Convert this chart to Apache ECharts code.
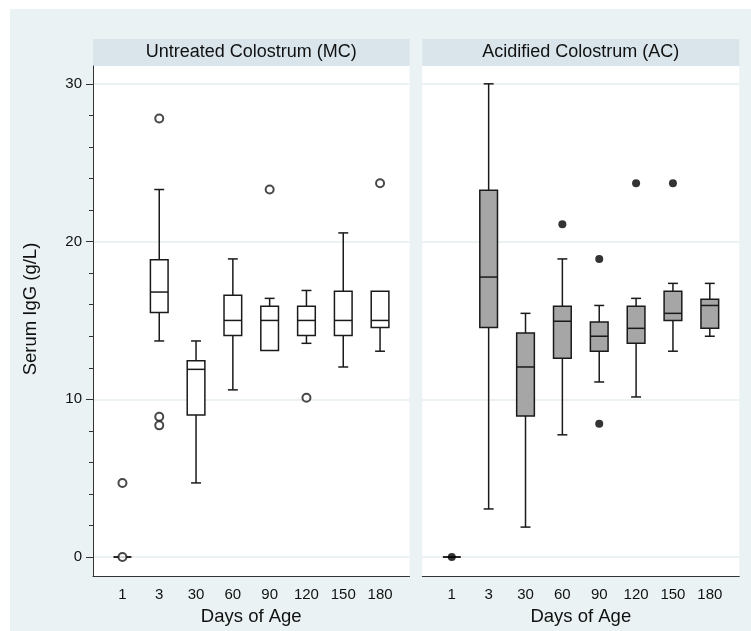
<!DOCTYPE html>
<html>
<head>
<meta charset="utf-8">
<script src="https://cdn.jsdelivr.net/npm/echarts@6/dist/echarts.min.js"></script>
<style>
  html, body { margin: 0; padding: 0; background: #fff; overflow: hidden; }
  #bg { position: absolute; left: 10px; top: 9px; width: 741px; height: 622px; background: #eaf2f3; }
  #main { position: absolute; left: 0; top: 0; width: 751px; height: 631px; }
</style>
</head>
<body>
<div id="bg"></div>
<div id="main"></div>
<script>
// days of age (categories)
const days = ['1', '3', '30', '60', '90', '120', '150', '180']
const panelTitles = ['Untreated Colostrum (MC)', 'Acidified Colostrum (AC)']
const yTicks = [0, 10, 20, 30]
const yMinorTicks = [0, 2, 4, 6, 8, 10, 12, 14, 16, 18, 20, 22, 24, 26, 28, 30]

// boxes: [lower whisker, Q1, median, Q3, upper whisker]
const mcBoxes = [
  [0, 0, 0, 0, 0],
  [13.7, 15.5, 16.8, 18.85, 23.3],
  [4.7, 9.0, 11.9, 12.45, 13.7],
  [10.6, 14.05, 15.0, 16.6, 18.9],
  [13.1, 13.1, 15.0, 15.9, 16.4],
  [13.55, 14.05, 15.0, 15.9, 16.9],
  [12.05, 14.05, 15.0, 16.85, 20.55],
  [13.05, 14.55, 15.0, 16.85, 16.85]
]
// outliers: [category index, value]
const mcOutliers = [[0, 0], [0, 4.7], [1, 27.8], [1, 8.9], [1, 8.35], [4, 23.3], [5, 10.1], [7, 23.7]]

const acBoxes = [
  [0, 0, 0, 0, 0],
  [3.05, 14.55, 17.75, 23.25, 30.0],
  [1.9, 8.95, 12.05, 14.2, 15.45],
  [7.75, 12.6, 14.95, 15.9, 18.9],
  [11.1, 13.05, 14.0, 14.9, 15.95],
  [10.15, 13.55, 14.5, 15.9, 16.4],
  [13.05, 15.0, 15.45, 16.85, 17.35],
  [14.0, 14.5, 15.95, 16.35, 17.35]
]
const acOutliers = [[0, 0], [3, 21.1], [4, 18.9], [4, 8.45], [5, 23.7], [6, 23.7]]

const font = "'Liberation Sans', Arial, sans-serif"
const lineColor = '#1a1a1a'

// 箱线图用 custom series 画，x 轴是数值轴
function boxRenderer(fill) {
  return function (params, api) {
    const x = api.value(0)
    const lo = api.coord([x, api.value(1)])
    const q1 = api.coord([x, api.value(2)])
    const med = api.coord([x, api.value(3)])
    const q3 = api.coord([x, api.value(4)])
    const hi = api.coord([x, api.value(5)])
    const band = api.size([1, 0])[0]
    const bw = band * 0.48
    const cw = band * 0.27
    const cx = q1[0]
    const st = { stroke: lineColor, lineWidth: 1.5 }
    const children = []
    if (hi[1] < q3[1] - 0.5) {
      children.push({ type: 'line', shape: { x1: cx, y1: q3[1], x2: cx, y2: hi[1] }, style: st })
      children.push({ type: 'line', shape: { x1: cx - cw / 2, y1: hi[1], x2: cx + cw / 2, y2: hi[1] }, style: st })
    }
    if (lo[1] > q1[1] + 0.5) {
      children.push({ type: 'line', shape: { x1: cx, y1: q1[1], x2: cx, y2: lo[1] }, style: st })
      children.push({ type: 'line', shape: { x1: cx - cw / 2, y1: lo[1], x2: cx + cw / 2, y2: lo[1] }, style: st })
    }
    children.push({
      type: 'rect',
      shape: { x: cx - bw / 2, y: q3[1], width: bw, height: q1[1] - q3[1] },
      style: { fill: fill, stroke: lineColor, lineWidth: 1.5 }
    })
    children.push({ type: 'line', shape: { x1: cx - bw / 2, y1: med[1], x2: cx + bw / 2, y2: med[1] }, style: st })
    return { type: 'group', children: children }
  }
}

const grids = [
  { left: 93, top: 66, width: 316.5, height: 513 },
  { left: 422.3, top: 66, width: 317, height: 513 }
]

let xAxes = []
let yAxes = []
grids.forEach((g, i) => {
  xAxes.push({
    type: 'value', gridIndex: i, min: -0.8, max: 7.8,
    axisLine: { show: true, onZero: false, lineStyle: { color: '#333', width: 1 } },
    axisTick: { show: false, customValues: [0, 1, 2, 3, 4, 5, 6, 7] },
    axisLabel: {
      customValues: [0, 1, 2, 3, 4, 5, 6, 7],
      formatter: v => days[Math.round(v)],
      color: '#111', fontSize: 15, fontFamily: font, margin: 11
    },
    splitLine: { show: false },
    name: 'Days of Age', nameLocation: 'middle', nameGap: 31,
    nameTextStyle: { color: '#111', fontSize: 18.5, fontFamily: font }
  })
  // 主刻度 + 网格线
  yAxes.push({
    type: 'value', gridIndex: i, min: -1.2, max: 31.13, position: 'left', offset: 0,
    axisLine: { show: i === 0, onZero: false, lineStyle: { color: '#333', width: 1 } },
    axisTick: { show: i === 0, customValues: yTicks, length: 7, lineStyle: { color: '#333' } },
    axisLabel: { show: i === 0, customValues: yTicks, color: '#111', fontSize: 15, fontFamily: font, margin: 11 },
    splitLine: { show: true, lineStyle: { color: '#e6eef0', width: 1.5 } }
  })
})
// 次刻度（只在左图）
yAxes.push({
  type: 'value', gridIndex: 0, min: -1.2, max: 31.13, position: 'left', offset: 0,
  axisLine: { show: false, onZero: false },
  axisTick: { show: true, customValues: yMinorTicks, length: 4, lineStyle: { color: '#333' } },
  axisLabel: { show: false },
  splitLine: { show: false }
})

const allBoxes = [mcBoxes, acBoxes]
const allOutliers = [mcOutliers, acOutliers]
const fills = ['#ffffff', '#a6a6a6']
let series = []
allBoxes.forEach((boxes, i) => {
  series.push({
    type: 'custom', xAxisIndex: i, yAxisIndex: i,
    renderItem: boxRenderer(fills[i]),
    encode: { x: 0, y: [1, 2, 3, 4, 5] },
    data: boxes.map((b, k) => [k].concat(b)),
    silent: true, z: 2
  })
  series.push({
    type: 'scatter', xAxisIndex: i, yAxisIndex: i,
    data: allOutliers[i], symbol: 'circle', symbolSize: 8,
    itemStyle: i === 0
      ? { color: '#fff', borderColor: lineColor, borderWidth: 2 }
      : { color: '#000', borderColor: '#000', borderWidth: 0 },
    silent: true, z: 3
  })
})

const graphics = []
grids.forEach((g, i) => {
  graphics.push({
    type: 'rect', shape: { x: g.left, y: 39, width: g.width, height: 27 },
    style: { fill: '#d9e5eb' }, silent: true
  })
  graphics.push({
    type: 'text', x: g.left + g.width / 2, y: 52.5,
    style: { text: panelTitles[i], fill: '#111', font: '18px ' + font, textAlign: 'center', textVerticalAlign: 'middle' },
    silent: true
  })
})
graphics.push({
  type: 'text', x: 31, y: 309, rotation: Math.PI / 2,
  style: { text: 'Serum IgG (g/L)', fill: '#111', font: '18.5px ' + font, textAlign: 'center', textVerticalAlign: 'middle' },
  silent: true
})

let chart = echarts.init(document.getElementById('main'))
chart.setOption({
  backgroundColor: 'transparent',
  animation: false,
  grid: grids.map(g => Object.assign({ show: true, backgroundColor: '#fff', borderWidth: 0 }, g)),
  xAxis: xAxes,
  yAxis: yAxes,
  series: series,
  graphic: graphics
})
</script>
</body>
</html>
